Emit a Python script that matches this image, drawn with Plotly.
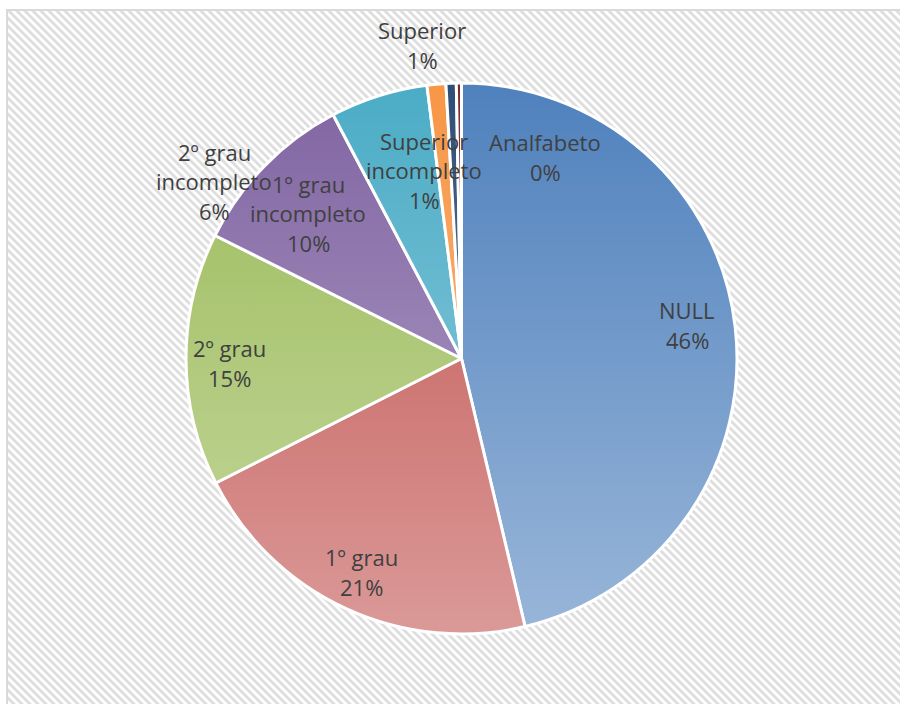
import base64
import plotly.graph_objects as go

# ---- data ----
categories = ["NULL", "1º grau", "2º grau", "1º grau incompleto",
              "2º grau incompleto", "Superior incompleto", "Superior", "Analfabeto"]
values = [46.2, 21.2, 14.8, 9.9, 5.7, 1.1, 0.6, 0.3]

# ---- style ----
colors = ["#4F81BD", "#C0504D", "#9BBB59", "#8064A2",
          "#4BACC6", "#F79646", "#2C4D75", "#772C2A"]
W, H = 900, 704
PIE_LEFT, PIE_TOP, PIE_SIZE = 186, 83, 551
TEXT_COLOR = "#404040"
FONT = "Open Sans"
FONT_SIZE = 22
LINE_GAP = 29.5

# label centre (pixel) for each category: x, y of the text block centre
label_pos = {
    "NULL": (687, 325),
    "1º grau": (361, 572),
    "2º grau": (230, 363),
    "1º grau incompleto": (308, 213),
    "2º grau incompleto": (214, 181),
    "Superior incompleto": (424, 170),
    "Superior": (422, 45),
    "Analfabeto": (545, 157),
}

fig = go.Figure()
fig.add_trace(go.Pie(
    labels=categories,
    values=values,
    sort=False,
    direction="clockwise",
    rotation=0,
    marker=dict(colors=colors, line=dict(color="white", width=3)),
    textinfo="none",
    hoverinfo="label+percent",
    showlegend=False,
    domain=dict(x=[PIE_LEFT / W, (PIE_LEFT + PIE_SIZE) / W],
                y=[1 - (PIE_TOP + PIE_SIZE) / H, 1 - PIE_TOP / H]),
))

# ---- labels computed from data ----
total = sum(values)
annotations = []
for cat, v in zip(categories, values):
    lines = cat.replace(" incompleto", "\nincompleto").split("\n")
    lines.append(f"{round(v / total * 100)}%")
    cx, cy = label_pos[cat]
    n = len(lines)
    for i, ln in enumerate(lines):
        y = cy + (i - (n - 1) / 2) * LINE_GAP
        annotations.append(dict(
            text=ln, x=cx / W, y=1 - y / H, xref="paper", yref="paper",
            xanchor="center", yanchor="middle", showarrow=False,
            font=dict(family=FONT, size=FONT_SIZE, color=TEXT_COLOR),
        ))

# ---- background: hatched chart area with left/top border ----
bg_svg = f'''<svg xmlns="http://www.w3.org/2000/svg" width="{W}" height="{H}" viewBox="0 0 {W} {H}">
<defs><pattern id="h" width="5.657" height="5.657" patternUnits="userSpaceOnUse" patternTransform="rotate(45)">
<rect x="0" y="0" width="5.657" height="2.9" fill="#DEDEDE"/></pattern></defs>
<rect x="0" y="0" width="{W}" height="{H}" fill="#FFFFFF"/>
<rect x="8" y="11" width="{W}" height="{H}" fill="url(#h)"/>
<path d="M7 {H} V10 H{W}" stroke="#D9D9D9" stroke-width="2" fill="none"/>
</svg>'''

# ---- soft vertical gradient over the pie (Excel-like gradient fill) ----
r = PIE_SIZE / 2
grad_svg = f'''<svg xmlns="http://www.w3.org/2000/svg" width="{PIE_SIZE}" height="{PIE_SIZE}" viewBox="0 0 {PIE_SIZE} {PIE_SIZE}">
<defs><linearGradient id="g" x1="0" y1="0" x2="0" y2="1">
<stop offset="0" stop-color="#FFFFFF" stop-opacity="0"/>
<stop offset="1" stop-color="#FFFFFF" stop-opacity="0.42"/></linearGradient></defs>
<circle cx="{r}" cy="{r}" r="{r}" fill="url(#g)"/>
</svg>'''


def uri(svg):
    return "data:image/svg+xml;base64," + base64.b64encode(svg.encode("utf-8")).decode("ascii")


images = [
    dict(source=uri(bg_svg), xref="paper", yref="paper", x=0, y=1,
         sizex=1, sizey=1, xanchor="left", yanchor="top",
         sizing="stretch", layer="below"),
    dict(source=uri(grad_svg), xref="paper", yref="paper",
         x=PIE_LEFT / W, y=1 - PIE_TOP / H, sizex=PIE_SIZE / W, sizey=PIE_SIZE / H,
         xanchor="left", yanchor="top", sizing="stretch", layer="above"),
]

fig.update_layout(
    width=W, height=H,
    margin=dict(l=0, r=0, t=0, b=0),
    paper_bgcolor="white",
    plot_bgcolor="white",
    annotations=annotations,
    images=images,
    showlegend=False,
)

fig.write_html(
    "out.html",
    config={"displayModeBar": False},
    post_script="document.body.style.margin='0';document.body.style.overflow='hidden';",
)
